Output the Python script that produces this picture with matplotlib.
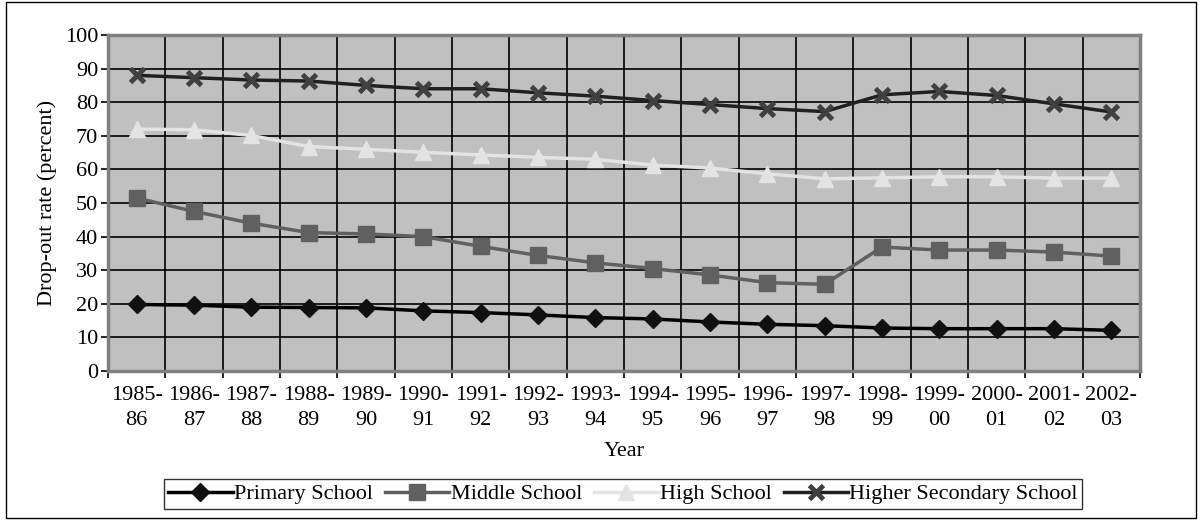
import numpy as np
import matplotlib.pyplot as plt
from matplotlib.patches import Rectangle

plt.rcParams['font.family'] = ['Liberation Serif', 'DejaVu Serif']

years = ['1985-\n86', '1986-\n87', '1987-\n88', '1988-\n89', '1989-\n90', '1990-\n91',
         '1991-\n92', '1992-\n93', '1993-\n94', '1994-\n95', '1995-\n96', '1996-\n97',
         '1997-\n98', '1998-\n99', '1999-\n00', '2000-\n01', '2001-\n02', '2002-\n03']

primary = [19.8, 19.6, 19.0, 18.9, 18.8, 17.9, 17.4, 16.7, 15.9, 15.5, 14.6, 13.9,
           13.5, 12.8, 12.6, 12.6, 12.6, 12.1]
middle = [51.5, 47.5, 44.0, 41.2, 40.8, 40.0, 37.1, 34.4, 32.2, 30.5, 28.6, 26.3,
          25.8, 36.9, 36.0, 36.0, 35.4, 34.2]
high = [72.0, 71.8, 70.1, 66.8, 66.0, 65.1, 64.3, 63.6, 63.0, 61.3, 60.4, 58.7,
        57.2, 57.5, 57.8, 57.8, 57.4, 57.4]
higher_sec = [88.0, 87.3, 86.6, 86.3, 85.0, 84.0, 84.0, 82.8, 81.8, 80.5, 79.3, 78.1,
              77.2, 82.2, 83.2, 82.0, 79.5, 77.1]

fs = 16
fig = plt.figure(figsize=(12.01, 5.2), dpi=100)
ax = fig.add_axes([0.0899, 0.2865, 0.8593, 0.6462])
ax.set_facecolor('#C0C0C0')

x = np.arange(len(years))
ax.plot(x, primary, color='#000000', lw=2.5, marker='D', ms=9, mfc='#101010',
        mec='#101010', label='Primary School', zorder=3)
ax.plot(x, middle, color='#606060', lw=2.5, marker='s', ms=11, mfc='#606060',
        mec='#606060', label='Middle School', zorder=3)
ax.plot(x, high, color='#E3E3E3', lw=2.5, marker='^', ms=11, mfc='#E3E3E3',
        mec='#E3E3E3', label='High School', zorder=3)
ax.plot(x, higher_sec, color='#202020', lw=2.5, marker='x', ms=10, mew=3.5,
        mec='#404040', label='Higher Secondary School', zorder=3)

ax.set_xlim(-0.5, len(years) - 0.5)
ax.set_ylim(0, 100)
ax.set_yticks(np.arange(0, 101, 10))
ax.set_xticks(np.arange(-0.5, len(years), 1.0))
ax.set_xticklabels([])
ax.set_xticks(x, minor=True)
ax.set_xticklabels(years, minor=True, fontsize=fs, linespacing=1.4)
ax.tick_params(axis='x', which='minor', length=0, pad=11)
ax.tick_params(axis='x', which='major', length=5, width=1.2, color='black')
ax.tick_params(axis='y', length=5, width=1.2, labelsize=fs, pad=2)
ax.grid(True, which='major', color='black', lw=1.2)
ax.set_axisbelow(True)
for sp in ax.spines.values():
    sp.set_color('#808080')
    sp.set_linewidth(2.5)

ax.set_ylabel('Drop-out rate (percent)', fontsize=fs, labelpad=6)
ax.set_xlabel('Year', fontsize=fs, labelpad=9)

leg = fig.legend(loc='center', bbox_to_anchor=(623 / 1201, 1 - 494 / 520), ncol=4,
                 fontsize=fs, frameon=True, fancybox=False, edgecolor='black',
                 handlelength=2.9, handletextpad=0.05, columnspacing=0.55,
                 borderpad=0.2, borderaxespad=0)
leg.get_frame().set_linewidth(1.0)

fig.patches.append(Rectangle((0.005, 0.004), 0.991, 0.993, transform=fig.transFigure,
                             fill=False, edgecolor='black', lw=1))

fig.savefig('out.png', dpi=100)
